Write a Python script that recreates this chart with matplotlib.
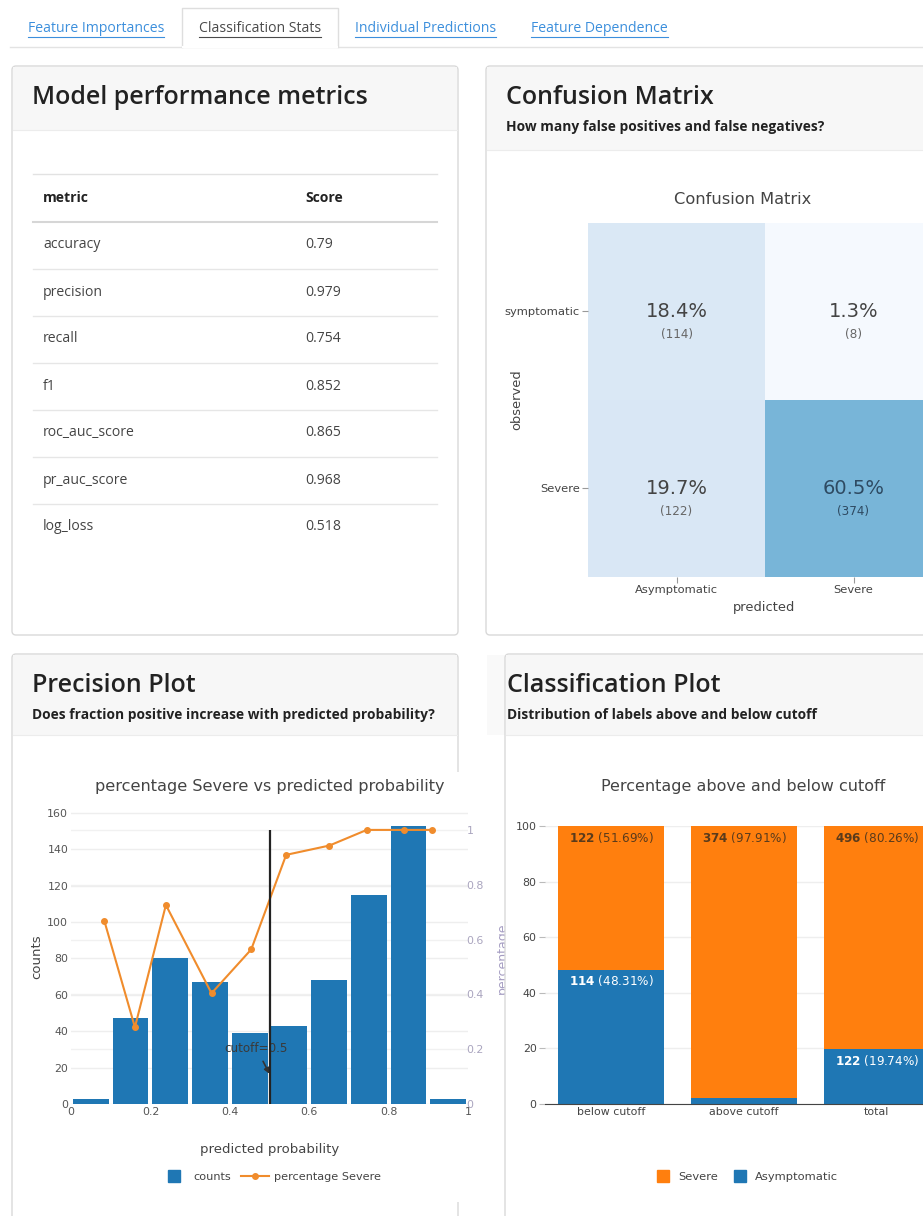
import numpy as np
import matplotlib
matplotlib.use('Agg')
from matplotlib import pyplot as plt
from matplotlib import transforms
from matplotlib.patches import Rectangle, FancyBboxPatch
from matplotlib.lines import Line2D

# ---------------- data ----------------
tab_names = ['Feature Importances', 'Classification Stats',
             'Individual Predictions', 'Feature Dependence']
active_tab = 'Classification Stats'

metric_names = ['accuracy', 'precision', 'recall', 'f1',
                'roc_auc_score', 'pr_auc_score', 'log_loss']
metric_scores = ['0.79', '0.979', '0.754', '0.852', '0.865', '0.968', '0.518']

cm_obs_labels = ['symptomatic', 'Severe']
cm_pred_labels = ['Asymptomatic', 'Severe']
cm_counts = np.array([[114, 8],
                      [122, 374]])

bin_centers = [0.05, 0.15, 0.25, 0.35, 0.45, 0.55, 0.65, 0.75, 0.85, 0.95]
bin_counts = [3, 47, 80, 67, 39, 43, 68, 115, 153, 3]
pct_x = [0.084, 0.161, 0.239, 0.354, 0.454, 0.542, 0.651, 0.745, 0.839, 0.910]
pct_severe = [0.668, 0.280, 0.726, 0.404, 0.564, 0.909, 0.943, 1.0, 1.0, 1.0]
cutoff = 0.5

cls_groups = ['below cutoff', 'above cutoff', 'total']
cls_asym = np.array([114, 8, 122])
cls_severe = np.array([122, 374, 496])

BLUE = '#1f77b4'
ORANGE = '#ff7f0e'
LINE_ORANGE = '#f08c2c'
UI_FONT = 'Open Sans'

W, H = 923, 1216
plt.rcParams['font.family'] = 'DejaVu Sans'
fig = plt.figure(figsize=(W / 100, H / 100), dpi=100)
fig.patch.set_facecolor('white')


def box(x0, y0, x1, y1):
    # pixel box (origin top-left) -> figure fraction rect
    return [x0 / W, 1 - y1 / H, (x1 - x0) / W, (y1 - y0) / H]


def pt(px):
    return px * 0.72


def page_axes():
    a = fig.add_axes([0, 0, 1, 1])
    a.set_xlim(0, W)
    a.set_ylim(H, 0)
    a.axis('off')
    return a


def card(a, x0, y0, x1, y1, head, title, subtitle=None, tx=20):
    a.add_patch(FancyBboxPatch((x0, y0), x1 - x0, y1 - y0,
                               boxstyle='round,pad=0,rounding_size=4',
                               fc='white', ec='#d9d9d9', lw=1))
    a.add_patch(Rectangle((x0 + 1, y0 + 1), x1 - x0 - 2, head - 1,
                          fc='#f7f7f7', ec='none'))
    a.plot([x0 + 1, x1 - 1], [y0 + head, y0 + head], color='#ececec', lw=0.8)
    a.text(x0 + tx, y0 + 31, title, fontsize=pt(25), family=UI_FONT,
           fontweight='semibold', color='#222222', va='center')
    if subtitle:
        a.text(x0 + tx, y0 + 61, subtitle, fontsize=pt(13.8), family=UI_FONT,
               fontweight='bold', color='#222222', va='center')


# ---------------- page background / tabs ----------------
bg = page_axes()
renderer = fig.canvas.get_renderer()
bg.plot([10, 923], [47, 47], color='#e3e3e3', lw=1)
bg.plot([182, 182, 338, 338], [47, 8, 8, 47], color='#dedede', lw=1)
bg.plot([183, 337], [47, 47], color='white', lw=1.5)
tab_x = [28, 199, 355, 531]
inv = bg.transData.inverted()
for name, x in zip(tab_names, tab_x):
    col = '#4a4a4a' if name == active_tab else '#3c8fdc'
    t = bg.text(x, 28, name, fontsize=pt(14), family=UI_FONT, color=col, va='center')
    bb = t.get_window_extent(renderer)
    (ux0, _), (ux1, _) = inv.transform([[bb.x0, bb.y0], [bb.x1, bb.y1]])
    bg.plot([ux0, ux1], [37, 37], color=col, lw=0.8)

# ---------------- card 1 : metrics table ----------------
card(bg, 12, 66, 458, 635, 64, 'Model performance metrics')
row_y = [198 + 47 * i for i in range(len(metric_names) + 1)]
bg.plot([33, 437], [174, 174], color='#e2e2e2', lw=1)
bg.text(43, row_y[0], 'metric', fontsize=pt(14), family=UI_FONT, fontweight='bold',
        color='#222222', va='center')
bg.text(305, row_y[0], 'Score', fontsize=pt(14), family=UI_FONT, fontweight='bold',
        color='#222222', va='center')
bg.plot([33, 437], [row_y[0] + 23.5] * 2, color='#d6d6d6', lw=1.5)
for name, score, y in zip(metric_names, metric_scores, row_y[1:]):
    bg.text(43, y, name, fontsize=pt(14), family=UI_FONT, color='#444444', va='center')
    bg.text(305, y, score, fontsize=pt(14), family=UI_FONT, color='#444444', va='center')
    if y < row_y[-1]:
        bg.plot([33, 437], [y + 23.5] * 2, color='#e6e6e6', lw=1)

# ---------------- card 2 : confusion matrix ----------------
card(bg, 486, 66, 945, 635, 84, 'Confusion Matrix',
     'How many false positives and false negatives?')
bg.text(743, 199, 'Confusion Matrix', fontsize=pt(16.2), color='#444444',
        ha='center', va='center')
bg.text(764, 607, 'predicted', fontsize=pt(13), color='#444444', ha='center', va='center')
bg.text(517, 400, 'observed', fontsize=pt(13), color='#444444', ha='center',
        va='center', rotation=90)

axm = fig.add_axes(box(588, 223, 942, 577))
cm_pct = cm_counts / cm_counts.sum() * 100
axm.imshow(cm_pct, cmap='Blues', vmin=0, vmax=130, aspect='auto',
           extent=(-0.5, 1.5, 1.5, -0.5))
for i in range(2):
    for j in range(2):
        col = '#2e4a62' if cm_pct[i, j] > 50 else '#444444'
        axm.text(j, i, f'{cm_pct[i, j]:.1f}%', ha='center', va='center',
                 fontsize=pt(19.5), color=col)
        axm.annotate(f'({cm_counts[i, j]})', xy=(j, i), xytext=(0, -16.5),
                     textcoords='offset points', ha='center', va='center',
                     fontsize=pt(12), color=col if cm_pct[i, j] > 50 else '#666666')
axm.set_xticks([0, 1])
axm.set_xticklabels(cm_pred_labels)
axm.set_yticks([0, 1])
axm.set_yticklabels(cm_obs_labels)
axm.tick_params(length=4, color='#999999', labelsize=pt(11.5), labelcolor='#444444', pad=2)
for s in axm.spines.values():
    s.set_visible(False)

# ---------------- card 3 : precision plot ----------------
card(bg, 12, 654, 458, 1235, 81, 'Precision Plot',
     'Does fraction positive increase with predicted probability?')
bg.add_patch(Rectangle((440, 772), 40, 430, fc='white', ec='none'))
bg.text(270, 787, 'percentage Severe vs predicted probability', fontsize=pt(16.1),
        color='#444444', ha='center', va='center')
bg.text(270, 1149, 'predicted probability', fontsize=pt(13.3), color='#444444',
        ha='center', va='center')
bg.text(37, 957, 'counts', fontsize=pt(13.3), color='#444444', ha='center',
        va='center', rotation=90)
bg.text(505.5, 958, 'percentage', fontsize=pt(12.5), color='#a59dc2', ha='center',
        va='baseline', rotation=90, rotation_mode='anchor')

ax = fig.add_axes(box(71, 811, 468, 1104))
ax.patch.set_alpha(0)
ax2 = ax.twinx()
ax.set_xlim(0, 1)
ax.set_ylim(0, 161)
ax2.set_ylim(0, 1.069)
ax.set_yticks(range(0, 161, 20))
ax.set_xticks([0, 0.2, 0.4, 0.6, 0.8, 1])
ax.set_xticklabels(['0', '0.2', '0.4', '0.6', '0.8', '1'])
ax.grid(axis='y', color='#eeeeee', lw=1)
ax.set_axisbelow(True)
right_ticks = [0, 0.2, 0.4, 0.6, 0.8, 1]
mix = transforms.blended_transform_factory(ax.transAxes, ax2.transData)
for v in right_ticks[1:]:
    ax.plot([0, 1], [v, v], transform=mix, color='#f1f1f1', lw=1, zorder=0.5)
ax.bar(bin_centers, bin_counts, width=0.09, color=BLUE, zorder=2)
ax2.plot(pct_x, pct_severe, color=LINE_ORANGE, marker='o', ms=4, lw=1.5, zorder=3)
ax2.vlines(cutoff, 0, 1, color='#222222', lw=1.6, zorder=4)
ax2.annotate(f'cutoff={cutoff}', xy=(cutoff, 0.11), xytext=(0.467, 0.203),
             ha='center', va='center', fontsize=pt(12), color='#3a3a3a',
             arrowprops=dict(arrowstyle='-|>', color='#333333', lw=1.2,
                             shrinkA=3, shrinkB=0, mutation_scale=8))
ax2.set_yticks(right_ticks)
ax2.set_yticklabels(['0', '0.2', '0.4', '0.6', '0.8', '1'])
for a in (ax, ax2):
    for s in a.spines.values():
        s.set_visible(False)
ax.tick_params(length=0, labelsize=pt(11), labelcolor='#555555', pad=2)
ax2.tick_params(length=0, labelsize=pt(11), labelcolor='#aaa5bf', pad=-1)

p_handles = [Line2D([], [], ls='none', marker='s', ms=9, color=BLUE),
             Line2D([], [], color=LINE_ORANGE, marker='o', ms=4, lw=1.5)]
ax.legend(p_handles, ['counts', 'percentage Severe'], loc='center',
          bbox_to_anchor=(271 / W, 1 - 1177 / H), bbox_transform=fig.transFigure,
          ncol=2, frameon=False, fontsize=pt(11.3), handlelength=2.4,
          columnspacing=0.9, handletextpad=0.5, labelcolor='#444444')

# ---------------- card 4 : classification plot ----------------
ov = page_axes()
ov.add_patch(Rectangle((487, 655), 18, 80, fc='#f9f9f9', ec='none'))
card(ov, 505, 654, 945, 1235, 81, 'Classification Plot',
     'Distribution of labels above and below cutoff', tx=2)
ov.text(743, 787, 'Percentage above and below cutoff', fontsize=pt(16),
        color='#444444', ha='center', va='center')

axc = fig.add_axes(box(545, 826, 943, 1104))
cls_total = cls_asym + cls_severe
asym_pct = cls_asym / cls_total * 100
sev_pct = cls_severe / cls_total * 100
xpos = np.arange(len(cls_groups))
axc.bar(xpos, asym_pct, 0.8, color=BLUE, zorder=2, label='Asymptomatic')
axc.bar(xpos, sev_pct, 0.8, bottom=asym_pct, color=ORANGE, zorder=2, label='Severe')
for i in xpos:
    axc.annotate(f'$\\mathbf{{{cls_severe[i]}}}$ ({sev_pct[i]:.2f}%)', xy=(i, 100),
                 xytext=(0, -8), textcoords='offset points', ha='center', va='center',
                 fontsize=pt(12), color='#5a3b1c', zorder=3)
    if asym_pct[i] > 10:
        axc.annotate(f'$\\mathbf{{{cls_asym[i]}}}$ ({asym_pct[i]:.2f}%)',
                     xy=(i, asym_pct[i]), xytext=(0, -8), textcoords='offset points',
                     ha='center', va='center', fontsize=pt(12), color='white', zorder=3)
axc.set_xlim(-0.5, 2.5)
axc.set_ylim(0, 100)
axc.set_xticks(xpos)
axc.set_xticklabels(cls_groups)
axc.set_yticks(range(0, 101, 20))
axc.grid(axis='y', color='#eeeeee', lw=1)
axc.set_axisbelow(True)
for k, s in axc.spines.items():
    s.set_visible(k == 'bottom')
axc.spines['bottom'].set_color('#444444')
axc.tick_params(axis='x', length=0, labelsize=pt(11), labelcolor='#444444', pad=2)
axc.tick_params(axis='y', length=4, color='#bbbbbb', labelsize=pt(11),
                labelcolor='#444444', pad=2)

c_handles = [Line2D([], [], ls='none', marker='s', ms=9, color=ORANGE),
             Line2D([], [], ls='none', marker='s', ms=9, color=BLUE)]
axc.legend(c_handles, ['Severe', 'Asymptomatic'], loc='center',
           bbox_to_anchor=(747 / W, 1 - 1177 / H), bbox_transform=fig.transFigure,
           ncol=2, frameon=False, fontsize=pt(11.5), handlelength=1.2,
           columnspacing=1.3, handletextpad=0.7, labelcolor='#444444')

plt.savefig('out.png', dpi=100)
